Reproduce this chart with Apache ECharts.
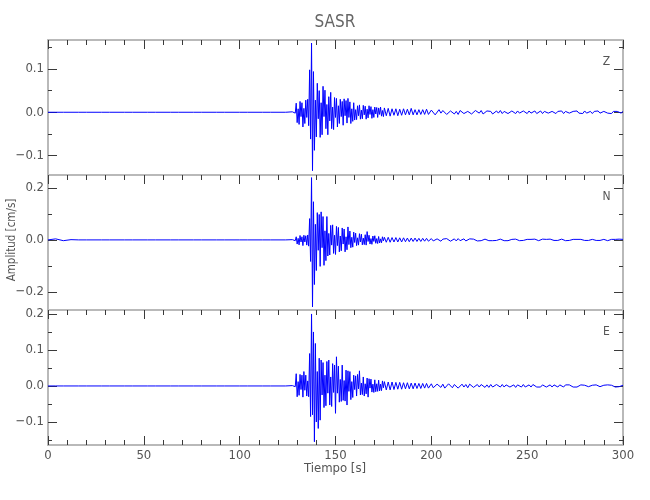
<!DOCTYPE html>
<html><head><meta charset="utf-8">
<script src="https://cdn.jsdelivr.net/npm/echarts@6/dist/echarts.min.js"></script>
<style>html,body{margin:0;padding:0;background:#fff}#chart{width:650px;height:500px}</style>
</head><body><div id="chart"></div>
<script>
const preStart = 0,    preStep = 4;    // pre-event noise
const mainStart = 127.5, mainStep = 0.5; // strong motion
const codaStart = 200, codaStep = 1;    // late coda

// ---- tick labels ----
const xTicks = [0, 50, 100, 150, 200, 250, 300];
const zRange = [-0.145, 0.167], zTicks = [-0.1, 0, 0.1], zMinor = [-0.05, 0.05, 0.15];
const nRange = [-0.27, 0.25],   nTicks = [-0.2, 0, 0.2], nMinor = [-0.1, 0.1];
const eRange = [-0.164, 0.211], eTicks = [-0.1, 0, 0.1, 0.2], eMinor = [-0.15, -0.05, 0.05, 0.15];
const components = ['Z', 'N', 'E'];

// ---- Z component (cm/s) ----
const zPre = [0.000, 0.000, 0.000, 0.000, 0.000, 0.000, 0.000, 0.000, 0.000, 0.000, 0.000, 0.000, 0.000, 0.000, 0.000, 0.000,
  0.000, 0.000, 0.000, 0.000, 0.000, 0.000, 0.000, 0.000, 0.000, 0.000, 0.000, 0.000, 0.000, 0.000, 0.000, 0.000];
const zMain = [0.001, -0.001, 0.002, -0.002, 0.021, -0.024, 0.008, -0.028, 0.025, -0.010,
  0.022, -0.034, 0.009, -0.026, 0.028, -0.012, 0.030, -0.031, 0.098, -0.062,
  0.160, -0.135, 0.094, -0.088, 0.028, -0.057, 0.067, -0.015, 0.050, -0.058,
  0.022, -0.052, 0.060, -0.010, 0.051, -0.038, 0.018, -0.052, 0.036, -0.020,
  0.046, -0.038, 0.012, -0.040, 0.034, -0.012, 0.032, -0.034, 0.015, -0.026,
  0.030, -0.010, 0.025, -0.030, 0.031, -0.008, 0.027, -0.025, 0.032, -0.012,
  0.024, -0.026, 0.008, -0.021, 0.022, -0.018, 0.006, -0.017, 0.015, -0.008,
  0.017, -0.016, 0.005, -0.015, 0.016, -0.006, 0.014, -0.016, 0.007, -0.013,
  0.015, -0.005, 0.013, -0.014, 0.006, -0.012, 0.012, -0.004, 0.011, -0.012,
  0.010, -0.005, 0.012, -0.009, 0.004, -0.010,
  0.010, 0.012, -0.008, -0.010, 0.009, 0.008, -0.009, -0.008,
  0.008, 0.009, -0.007, -0.008, 0.008, 0.007, -0.008, -0.007,
  0.007, 0.008, -0.007, -0.006, 0.008, 0.007, -0.006, -0.007,
  0.007, 0.006, -0.006, -0.007, 0.009, 0.012, -0.006, -0.007,
  0.006, 0.007, -0.006, -0.005, 0.006, 0.005, -0.005, -0.006,
  0.006, 0.005, -0.005, -0.005, 0.007, 0.010, -0.005, -0.005];
const zCoda = [0.005, 0.003, -0.006, -0.004, 0.006, -0.002, 0.004, 0.005, -0.005, -0.006,
  0.003, 0.005, -0.004, 0.002, -0.005, 0.004, 0.005, -0.003, -0.005, 0.002,
  0.004, -0.004, -0.003, 0.004, 0.003, -0.002, 0.004, -0.004, -0.003, 0.003,
  0.004, 0.002, -0.004, -0.003, 0.003, -0.002, 0.004, -0.003, 0.002, 0.003,
  -0.003, -0.004, 0.003, 0.002, -0.003, 0.003, -0.002, -0.003, 0.003, 0.002,
  -0.003, 0.003, -0.002, 0.002, 0.003, -0.003, -0.002, 0.003, -0.003, 0.002,
  0.003, -0.002, -0.003, 0.002, 0.003, -0.003, 0.002, -0.002, 0.003, -0.003,
  0.002, 0.003, -0.002, -0.003, 0.002, -0.002, 0.003, -0.002, 0.002, -0.003,
  0.003, -0.002, 0.002, 0.002, -0.003, 0.002, -0.002, 0.003, -0.002, -0.002,
  0.002, 0.003, -0.002, 0.002, -0.003, 0.002, -0.002, 0.002, 0.002, -0.002,
  0.002];

// ---- N component (cm/s) ----
const nPre = [0.000, 0.004, -0.003, 0.001, 0.000, 0.000, 0.000, 0.000, 0.000, 0.000, 0.000, 0.000, 0.000, 0.000, 0.000, 0.000,
  0.000, 0.000, 0.000, 0.000, 0.000, 0.000, 0.000, 0.000, 0.000, 0.000, 0.000, 0.000, 0.000, 0.000, 0.000, 0.000];
const nMain = [0.001, -0.002, 0.002, -0.003, 0.012, -0.016, 0.006, -0.019, 0.017, -0.008,
  0.012, -0.022, 0.018, -0.008, 0.016, -0.020, 0.019, -0.024, 0.082, -0.083,
  0.240, -0.258, 0.147, -0.172, 0.060, -0.118, 0.105, -0.040, 0.098, -0.102,
  0.108, -0.030, 0.090, -0.098, 0.035, -0.080, 0.090, -0.062, 0.025, -0.058,
  0.056, -0.020, 0.058, -0.052, 0.018, -0.056, 0.052, -0.022, 0.048, -0.046,
  0.015, -0.042, 0.046, -0.016, 0.042, -0.046, 0.012, -0.038, 0.050, -0.018,
  0.034, -0.030, 0.010, -0.028, 0.030, -0.010, 0.026, -0.022, 0.008, -0.020,
  0.024, -0.008, 0.022, -0.019, 0.007, -0.018, 0.020, -0.020, 0.032, -0.006,
  0.018, -0.016, 0.005, -0.017, 0.015, -0.006, 0.016, -0.013, 0.005, -0.014,
  0.013, -0.012, 0.004, -0.011, 0.012, -0.004,
  0.010, 0.011, -0.009, -0.010, 0.010, 0.008, -0.009, -0.010,
  0.009, 0.010, -0.008, -0.009, 0.009, 0.008, -0.008, -0.009,
  0.008, 0.009, -0.008, -0.007, 0.008, 0.007, -0.007, -0.008,
  0.007, 0.008, -0.007, -0.006, 0.007, 0.006, -0.006, -0.007,
  0.007, 0.011, -0.006, -0.006, 0.006, 0.007, -0.006, -0.005,
  0.006, 0.005, -0.005, -0.006, 0.006, 0.005, -0.005, -0.005];
const nCoda = [0.005, -0.004, -0.006, 0.004, 0.006, -0.005, 0.003, -0.004, 0.005, 0.004,
  -0.005, -0.003, 0.004, -0.004, 0.005, -0.003, 0.003, 0.004, -0.004, -0.003,
  0.004, -0.003, 0.003, 0.004, -0.004, 0.003, -0.003, -0.004, 0.003, 0.002,
  -0.003, 0.004, -0.003, 0.003, -0.002, -0.003, 0.003, 0.003, -0.003, 0.002,
  -0.003, 0.003, 0.002, -0.003, 0.003, -0.002, -0.003, 0.003, -0.002, 0.003,
  0.002, -0.003, 0.002, -0.002, 0.003, 0.002, -0.003, -0.002, 0.003, -0.002,
  0.002, -0.003, 0.003, -0.002, -0.002, 0.003, -0.002, 0.002, 0.003, -0.002,
  -0.003, 0.002, -0.002, 0.003, 0.002, -0.002, 0.002, -0.003, 0.002, 0.002,
  -0.002, 0.003, -0.002, -0.002, 0.002, 0.003, -0.002, 0.002, -0.002, 0.002,
  0.002, -0.002, -0.003, 0.002, 0.002, -0.002, 0.002, -0.002, 0.003, -0.002,
  0.002];

// ---- E component (cm/s) ----
const ePre = [0.000, 0.000, 0.000, 0.000, 0.000, 0.000, 0.000, 0.000, 0.000, 0.000, 0.000, 0.000, 0.000, 0.000, 0.000, 0.000,
  0.000, 0.000, 0.000, 0.000, 0.000, 0.000, 0.000, 0.000, 0.000, 0.000, 0.000, 0.000, 0.000, 0.000, 0.000, 0.000];
const eMain = [0.001, -0.001, 0.002, -0.002, 0.034, -0.030, 0.012, -0.026, 0.032, -0.010,
  0.030, -0.031, 0.040, -0.012, 0.030, -0.028, 0.014, -0.030, 0.090, -0.085,
  0.200, -0.080, 0.150, -0.155, 0.118, -0.100, 0.040, -0.118, 0.077, -0.095,
  0.072, -0.025, 0.065, -0.060, 0.030, -0.055, 0.068, -0.020, 0.072, -0.053,
  0.025, -0.057, 0.062, -0.018, 0.058, -0.076, 0.081, -0.020, 0.055, -0.045,
  0.018, -0.043, 0.058, -0.040, 0.015, -0.042, 0.044, -0.053, 0.042, -0.015,
  0.040, -0.038, 0.012, -0.032, 0.030, -0.010, 0.028, -0.028, 0.032, -0.008,
  0.042, -0.025, 0.008, -0.024, 0.025, -0.028, 0.006, -0.022, 0.022, -0.031,
  0.020, -0.006, 0.019, -0.017, 0.005, -0.018, 0.017, -0.016, 0.006, -0.015,
  0.016, -0.014, 0.005, -0.013, 0.014, -0.005,
  0.012, 0.013, -0.011, -0.012, 0.011, 0.012, -0.011, -0.010,
  0.011, 0.010, -0.010, -0.011, 0.010, 0.011, -0.009, -0.010,
  0.010, 0.009, -0.009, -0.010, 0.009, 0.010, -0.008, -0.009,
  0.009, 0.008, -0.008, -0.009, 0.008, 0.009, -0.008, -0.007,
  0.008, 0.007, -0.007, -0.008, 0.007, 0.008, -0.007, -0.006,
  0.007, 0.006, -0.006, -0.007, 0.007, 0.006, -0.006, -0.006];
const eCoda = [0.006, -0.005, -0.007, 0.005, 0.006, -0.004, 0.005, -0.006, -0.004, 0.006,
  0.005, -0.005, 0.004, 0.005, -0.006, -0.004, 0.005, -0.003, 0.004, -0.005,
  0.005, 0.004, -0.004, -0.005, 0.004, -0.003, 0.004, 0.003, -0.004, 0.003,
  -0.004, 0.004, -0.003, -0.004, 0.004, 0.003, -0.003, 0.004, -0.003, 0.003,
  0.004, -0.003, -0.003, 0.003, -0.004, 0.003, 0.003, -0.003, 0.004, -0.003,
  -0.002, 0.003, -0.003, 0.004, 0.003, -0.003, 0.002, -0.003, 0.003, 0.002,
  -0.003, -0.002, 0.003, -0.003, 0.003, 0.002, -0.003, 0.003, -0.002, -0.003,
  0.003, -0.002, 0.003, 0.002, -0.003, 0.002, -0.003, -0.002, 0.003, -0.002,
  0.002, 0.003, -0.002, -0.003, 0.002, -0.002, 0.003, 0.002, -0.002, -0.003,
  0.002, -0.002, 0.003, -0.002, 0.002, 0.002, -0.003, 0.002, -0.002, 0.002,
  0.002];

// ---- build ----
function trace(pre, main, coda) {
  const pts = [];
  pre.forEach((v, i) => pts.push([preStart + i * preStep, v]));
  main.forEach((v, i) => pts.push([mainStart + i * mainStep, v]));
  coda.forEach((v, i) => pts.push([codaStart + i * codaStep, v]));
  return pts;
}
const traces = [trace(zPre, zMain, zCoda), trace(nPre, nMain, nCoda), trace(ePre, eMain, eCoda)];
const ranges = [zRange, nRange, eRange];
const majors = [zTicks, nTicks, eTicks];
const minors = [zMinor, nMinor, eMinor];

const FONT = '"DejaVu Sans Condensed", "Liberation Sans Narrow", sans-serif';
const AXIS = '#b9b9b9', TICK = '#3a3a3a', TEXT = '#555555';
const tops = [40, 175, 310], PH = 135;
const fmtY = v => (v < 0 ? '\u2212' : '') + Math.abs(v).toFixed(1);

const grid = [], xAxis = [], yAxis = [], series = [], graphic = [];
for (let p = 0; p < 3; p++) {
  grid.push({ left: 48, right: 27, top: tops[p], height: PH });
  const last = p === 2;
  const xBase = {
    type: 'value', gridIndex: p, min: xTicks[0], max: xTicks[xTicks.length - 1], interval: 50,
    axisLine: { show: true, onZero: false, lineStyle: { color: AXIS, width: 2 } },
    splitLine: { show: false }, minorSplitLine: { show: false }
  };
  xAxis.push(Object.assign({}, xBase, {
    position: 'bottom',
    axisTick: { show: last, inside: true, length: 9, lineStyle: { color: TICK, width: 1 } },
    minorTick: { show: last, splitNumber: 5, length: 5, lineStyle: { color: TICK, width: 1 } },
    axisLabel: { show: last, color: TEXT, fontFamily: FONT, fontSize: 13, margin: 4 }
  }));
  xAxis.push(Object.assign({}, xBase, {
    position: 'top',
    axisTick: { show: true, inside: true, length: 9, lineStyle: { color: TICK, width: 1 } },
    minorTick: { show: true, splitNumber: 5, length: 5, lineStyle: { color: TICK, width: 1 } },
    axisLabel: { show: false }
  }));
  ['left', 'right'].forEach(side => {
    const yb = { type: 'value', gridIndex: p, position: side, min: ranges[p][0], max: ranges[p][1],
      splitLine: { show: false } };
    yAxis.push(Object.assign({}, yb, {
      axisLine: { show: true, onZero: false, lineStyle: { color: AXIS, width: 2 } },
      axisTick: { show: true, inside: true, length: 9, customValues: majors[p], lineStyle: { color: TICK, width: 1 } },
      axisLabel: side === 'left'
        ? { show: true, customValues: majors[p], formatter: fmtY, color: TEXT, fontFamily: FONT, fontSize: 13, margin: 4 }
        : { show: false }
    }));
    yAxis.push(Object.assign({}, yb, {
      axisLine: { show: false, onZero: false },
      axisTick: { show: true, inside: true, length: 4, customValues: minors[p], lineStyle: { color: TICK, width: 1 } },
      axisLabel: { show: false }
    }));
  });
  series.push({
    type: 'line', name: components[p], xAxisIndex: p * 2, yAxisIndex: p * 4,
    data: traces[p], showSymbol: false, symbol: 'none', sampling: null, smooth: false,
    lineStyle: { color: '#0000ff', width: 1 }, silent: true, clip: true
  });
  graphic.push({ type: 'text', x: 606.5, y: tops[p] + 21.5,
    style: { text: components[p], fill: TEXT, fontFamily: FONT, fontSize: 12, align: 'center', verticalAlign: 'middle' } });
}
graphic.push({ type: 'text', x: 335, y: 23,
  style: { text: 'SASR', fill: '#666', fontFamily: FONT, fontSize: 17, align: 'center', verticalAlign: 'middle' } });
graphic.push({ type: 'text', x: 335, y: 469,
  style: { text: 'Tiempo [s]', fill: TEXT, fontFamily: FONT, fontSize: 13, align: 'center', verticalAlign: 'middle' } });
graphic.push({ type: 'text', x: 12, y: 240, rotation: Math.PI / 2,
  style: { text: 'Amplitud [cm/s]', fill: TEXT, fontFamily: FONT, fontSize: 11.5, align: 'center', verticalAlign: 'middle' } });

const chart = echarts.init(document.getElementById('chart'), null, { renderer: 'canvas' });
chart.setOption({ animation: false, backgroundColor: '#ffffff', grid, xAxis, yAxis, series, graphic });
</script></body></html>
